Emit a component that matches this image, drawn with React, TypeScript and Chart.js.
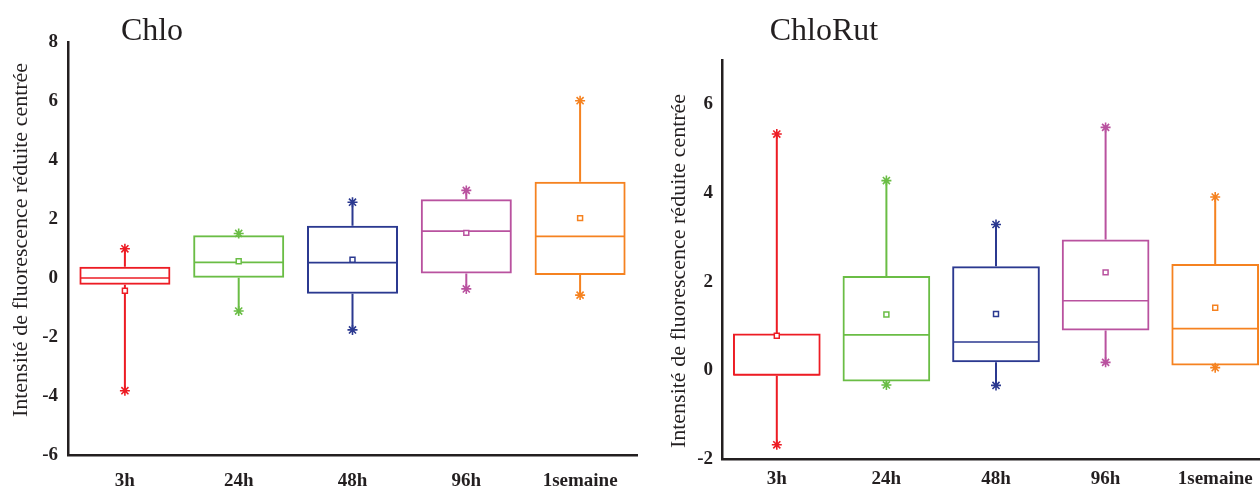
import React, { useEffect, useRef } from "react";
import { Chart, registerables } from "chart.js";

Chart.register(...registerables);

const CATEGORIES = ["3h", "24h", "48h", "96h", "1semaine"];
const COLORS = ["#ed1c24", "#6abd45", "#2b3990", "#b9529f", "#f58220"];

// Chlo
const CHLO_MIN = [-3.82, -1.12, -1.76, -0.37, -0.58];
const CHLO_Q1 = [-0.23, 0.01, -0.53, 0.15, 0.1];
const CHLO_MEDIAN = [0.0, 0.53, 0.52, 1.59, 1.41];
const CHLO_Q3 = [0.38, 1.45, 1.77, 2.67, 3.26];
const CHLO_MAX = [0.99, 1.51, 2.57, 2.97, 6.01];
const CHLO_MEAN = [-0.43, 0.57, 0.62, 1.53, 2.03];
const CHLO_TICKS = [-6, -4, -2, 0, 2, 4, 6, 8];

// ChloRut
const RUT_MIN = [-1.68, -0.33, -0.34, 0.18, 0.06];
const RUT_Q1 = [-0.12, -0.25, 0.18, 0.9, 0.11];
const RUT_MEDIAN = [-0.1, 0.8, 0.64, 1.57, 0.94];
const RUT_Q3 = [0.83, 2.13, 2.35, 2.95, 2.4];
const RUT_MAX = [5.33, 4.28, 3.29, 5.48, 3.91];
const RUT_MEAN = [0.78, 1.26, 1.27, 2.21, 1.41];
const RUT_TICKS = [-2, 0, 2, 4, 6];

const Y_TITLE = "Intensité de fluorescence réduite centrée";
const SERIF = "'Liberation Serif', 'Times New Roman', serif";
const INK = "#231f20";

type Stats = {
  min: number[];
  q1: number[];
  median: number[];
  q3: number[];
  max: number[];
  mean: number[];
};

type Spec = {
  title: string;
  stats: Stats;
  yMin: number;
  yMax: number;
  yTicks: number[];
  width: number;
  height: number;
  padTop: number;
  padRight: number;
  yAxisWidth: number;
  xAxisHeight: number;
  titleX: number;
  yTitleX: number;
  yTitleY: number;
  tickPad: number;
  xTickPad: number;
};

function makeConfig(spec: Spec): any {
  const s = spec.stats;
  const boxParts = {
    id: "boxParts",
    beforeDatasetsDraw(chart: any) {
      const ctx = chart.ctx;
      const xs = chart.scales.x;
      const ys = chart.scales.y;
      const meta = chart.getDatasetMeta(0);
      ctx.save();
      for (let i = 0; i < CATEGORIES.length; i++) {
        const el = meta.data[i];
        const cx = xs.getPixelForValue(i);
        const half = el ? el.width / 2 : 40;
        ctx.strokeStyle = COLORS[i];
        ctx.lineWidth = 2;
        ctx.beginPath();
        ctx.moveTo(cx, ys.getPixelForValue(s.max[i]));
        ctx.lineTo(cx, ys.getPixelForValue(s.q3[i]));
        ctx.moveTo(cx, ys.getPixelForValue(s.q1[i]));
        ctx.lineTo(cx, ys.getPixelForValue(s.min[i]));
        ctx.stroke();
        ctx.lineWidth = 1.6;
        ctx.beginPath();
        const my = ys.getPixelForValue(s.median[i]);
        ctx.moveTo(cx - half + 1, my);
        ctx.lineTo(cx + half - 1, my);
        ctx.stroke();
      }
      ctx.restore();
    },
    afterDraw(chart: any) {
      const ctx = chart.ctx;
      ctx.save();
      ctx.fillStyle = INK;
      ctx.font = `32px ${SERIF}`;
      ctx.textAlign = "center";
      ctx.textBaseline = "alphabetic";
      ctx.fillText(spec.title, spec.titleX, 40);
      ctx.translate(spec.yTitleX, spec.yTitleY);
      ctx.rotate(-Math.PI / 2);
      ctx.font = `22px ${SERIF}`;
      ctx.textBaseline = "middle";
      ctx.fillText(Y_TITLE, 0, 0);
      ctx.restore();
    },
  };

  return {
    type: "bar",
    plugins: [boxParts],
    data: {
      labels: CATEGORIES,
      datasets: [
        {
          type: "bar",
          data: CATEGORIES.map((_, i) => [s.q1[i], s.q3[i]]),
          backgroundColor: "rgba(255,255,255,0)",
          borderColor: COLORS,
          borderWidth: 2,
          borderSkipped: false,
          barPercentage: 0.8,
          categoryPercentage: 1,
          order: 3,
        },
        {
          type: "line",
          data: s.mean,
          showLine: false,
          pointStyle: "rect",
          pointRadius: 3.5,
          pointBackgroundColor: "#ffffff",
          pointBorderColor: COLORS,
          pointBorderWidth: 1.5,
          order: 1,
        },
        {
          type: "line",
          data: s.max,
          showLine: false,
          pointStyle: "star",
          pointRadius: 5,
          pointBorderColor: COLORS,
          pointBackgroundColor: COLORS,
          pointBorderWidth: 1.6,
          order: 2,
        },
        {
          type: "line",
          data: s.min,
          showLine: false,
          pointStyle: "star",
          pointRadius: 5,
          pointBorderColor: COLORS,
          pointBackgroundColor: COLORS,
          pointBorderWidth: 1.6,
          order: 2,
        },
      ],
    },
    options: {
      responsive: false,
      animation: false,
      devicePixelRatio: 1,
      layout: {
        padding: { top: spec.padTop, right: spec.padRight, left: 0, bottom: 0 },
      },
      plugins: {
        legend: { display: false },
        tooltip: { enabled: false },
        title: { display: false },
      },
      scales: {
        x: {
          type: "category",
          offset: true,
          grid: { display: false, drawTicks: false },
          border: { display: true, color: INK, width: 2.5 },
          ticks: {
            color: INK,
            padding: spec.xTickPad,
            font: { family: SERIF, size: 19, weight: "bold" },
            maxRotation: 0,
            autoSkip: false,
          },
          afterFit(scale: any) {
            scale.height = spec.xAxisHeight;
          },
        },
        y: {
          type: "linear",
          min: spec.yMin,
          max: spec.yMax,
          grid: { display: false, drawTicks: false },
          border: { display: true, color: INK, width: 2.5 },
          afterBuildTicks(scale: any) {
            scale.ticks = spec.yTicks.map((v) => ({ value: v }));
          },
          ticks: {
            color: INK,
            padding: spec.tickPad,
            font: { family: SERIF, size: 19, weight: "bold" },
            callback: (v: any) => String(v),
          },
          afterFit(scale: any) {
            scale.width = spec.yAxisWidth;
          },
        },
      },
    },
  };
}

const LEFT_SPEC: Spec = {
  title: "Chlo",
  stats: { min: CHLO_MIN, q1: CHLO_Q1, median: CHLO_MEDIAN, q3: CHLO_Q3, max: CHLO_MAX, mean: CHLO_MEAN },
  yMin: -6,
  yMax: 8,
  yTicks: CHLO_TICKS,
  width: 650,
  height: 488,
  padTop: 42,
  padRight: 13,
  yAxisWidth: 68,
  xAxisHeight: 33,
  titleX: 152,
  yTitleX: 21,
  yTitleY: 240,
  tickPad: 10,
  xTickPad: 15,
};

const RIGHT_SPEC: Spec = {
  title: "ChloRut",
  stats: { min: RUT_MIN, q1: RUT_Q1, median: RUT_MEDIAN, q3: RUT_Q3, max: RUT_MAX, mean: RUT_MEAN },
  yMin: -2,
  yMax: 7,
  yTicks: RUT_TICKS,
  width: 620,
  height: 488,
  padTop: 60,
  padRight: 10,
  yAxisWidth: 62,
  xAxisHeight: 29,
  titleX: 164,
  yTitleX: 19,
  yTitleY: 271,
  tickPad: 9,
  xTickPad: 9,
};

function BoxChart({ spec, left }: { spec: Spec; left: number }) {
  const ref = useRef<HTMLCanvasElement | null>(null);
  useEffect(() => {
    if (!ref.current) return;
    const chart = new Chart(ref.current, makeConfig(spec));
    return () => chart.destroy();
  }, [spec]);
  return (
    <canvas
      ref={ref}
      width={spec.width}
      height={spec.height}
      style={{ position: "absolute", left, top: 0, width: spec.width, height: spec.height }}
    />
  );
}

export default function App() {
  return (
    <div
      style={{
        position: "fixed",
        left: 0,
        top: 0,
        width: 1260,
        height: 488,
        overflow: "hidden",
        background: "#ffffff",
      }}
    >
      <BoxChart spec={LEFT_SPEC} left={0} />
      <BoxChart spec={RIGHT_SPEC} left={660} />
    </div>
  );
}
